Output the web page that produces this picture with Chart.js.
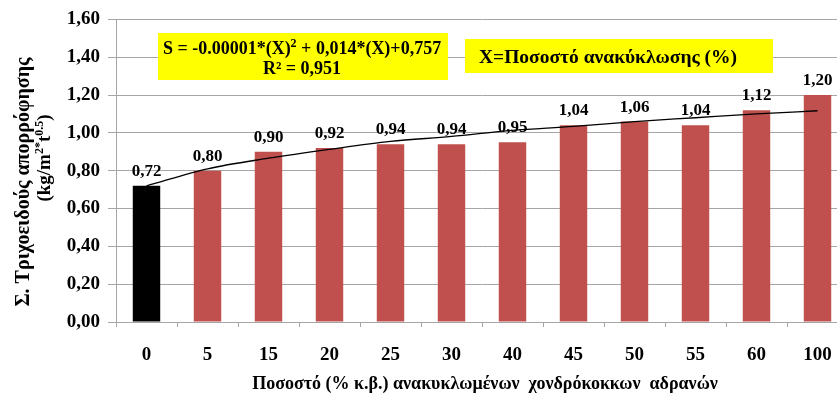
<!DOCTYPE html>
<html>
<head>
<meta charset="utf-8">
<script src="https://cdn.jsdelivr.net/npm/chart.js@4"></script>
<style>
  html, body { margin: 0; padding: 0; overflow: hidden; background: #fff; }
  #wrap { width: 850px; height: 396px; }
</style>
</head>
<body>
<div id="wrap"><canvas id="grafico" width="850" height="396"></canvas></div>
<script>
// Dados
const categorias = ['0', '5', '15', '20', '25', '30', '40', '45', '50', '55', '60', '100'];
const absorcao = [0.72, 0.80, 0.90, 0.92, 0.94, 0.94, 0.95, 1.04, 1.06, 1.04, 1.12, 1.20];
// Linha de tendência (valores lidos sobre cada categoria)
const tendencia = [0.72, 0.81, 0.866, 0.913, 0.955, 0.981, 1.013, 1.034, 1.06, 1.08, 1.10, 1.117];
const marcasY = [0, 0.2, 0.4, 0.6, 0.8, 1.0, 1.2, 1.4, 1.6];

const SERIF = '"Liberation Serif", "Times New Roman", serif';
const CINZA = '#a6a6a6';
const fmt = (v) => v.toFixed(2).replace('.', ',');

// Escreve texto com partes sobrescritas: [[texto, sobrescrito?], ...]
function textoSup(ctx, partes, x, y, tam, alinhar) {
  const medir = (p) => {
    ctx.font = `bold ${p[1] ? Math.round(tam * 0.65) : tam}px ${SERIF}`;
    return ctx.measureText(p[0]).width;
  };
  const total = partes.reduce((s, p) => s + medir(p), 0);
  let cx = alinhar === 'center' ? x - total / 2 : x;
  ctx.textAlign = 'left';
  ctx.textBaseline = 'alphabetic';
  for (const p of partes) {
    const w = medir(p);
    ctx.fillText(p[0], cx, p[1] ? y - tam * 0.38 : y);
    cx += w;
  }
}

const extras = {
  id: 'extras',
  afterDatasetsDraw(chart) {
    const ctx = chart.ctx;
    ctx.save();
    ctx.fillStyle = '#000';

    // rótulos das barras
    ctx.font = `bold 17px ${SERIF}`;
    ctx.textAlign = 'center';
    ctx.textBaseline = 'alphabetic';
    chart.getDatasetMeta(0).data.forEach((bar, i) => {
      ctx.fillText(fmt(absorcao[i]), bar.x, bar.y - 10);
    });

    // caixas amarelas
    ctx.fillStyle = '#ffff00';
    ctx.fillRect(158, 33, 290, 47);
    ctx.fillRect(465, 39, 308, 34);
    ctx.fillStyle = '#000';
    textoSup(ctx, [['S = -0.00001*(X)', 0], ['2', 1], [' + 0,014*(X)+0,757', 0]], 302, 54, 18, 'center');
    textoSup(ctx, [['R² = 0,951', 0]], 302, 74, 18, 'center');
    textoSup(ctx, [['X=Ποσοστό ανακύκλωσης (%)', 0]], 479, 63, 19.5, 'left');

    // título do eixo X
    ctx.font = `bold 18px ${SERIF}`;
    ctx.textAlign = 'center';
    ctx.fillText('Ποσοστό (% κ.β.) ανακυκλωμένων  χονδρόκοκκων  αδρανών', 485, 389);

    // título do eixo Y (rotacionado)
    ctx.rotate(-Math.PI / 2);
    textoSup(ctx, [['Σ. Τριχοειδούς απορρόφησης', 0]], -182, 29, 20, 'center');
    textoSup(ctx, [['(kg/m', 0], ['2', 1], ['*', 1], ['t', 0], ['0.5', 1], [')', 0]], -158, 50, 19, 'center');
    ctx.restore();
  }
};

new Chart(document.getElementById('grafico').getContext('2d'), {
  data: {
    labels: categorias,
    datasets: [
      {
        type: 'bar',
        data: absorcao,
        backgroundColor: absorcao.map((_, i) => (i === 0 ? '#000000' : '#c0504d')),
        barPercentage: 0.45,
        categoryPercentage: 1,
        order: 1,
      },
      {
        type: 'line',
        data: tendencia,
        borderColor: '#000',
        borderWidth: 1.3,
        pointRadius: 0,
        cubicInterpolationMode: 'monotone',
        fill: false,
        order: 0,
      },
    ],
  },
  options: {
    responsive: false,
    animation: false,
    layout: { padding: { top: 17, right: 2, left: 0, bottom: 0 } },
    plugins: { legend: { display: false }, tooltip: { enabled: false } },
    scales: {
      x: {
        grid: { drawOnChartArea: false, offset: true, tickLength: 5, color: CINZA },
        border: { color: CINZA },
        ticks: { color: '#000', padding: 17, font: { family: SERIF, size: 19, weight: 'bold' } },
        afterFit: (s) => { s.height = 74; },
      },
      y: {
        min: 0,
        max: 1.6,
        afterBuildTicks: (s) => { s.ticks = marcasY.map((v) => ({ value: v })); },
        grid: { color: CINZA, tickLength: 8 },
        border: { color: CINZA },
        ticks: { color: '#000', padding: 8, callback: (v) => fmt(v), font: { family: SERIF, size: 19, weight: 'bold' } },
        afterFit: (s) => { s.width = 116; },
      },
    },
  },
  plugins: [extras],
});
</script>
</body>
</html>
